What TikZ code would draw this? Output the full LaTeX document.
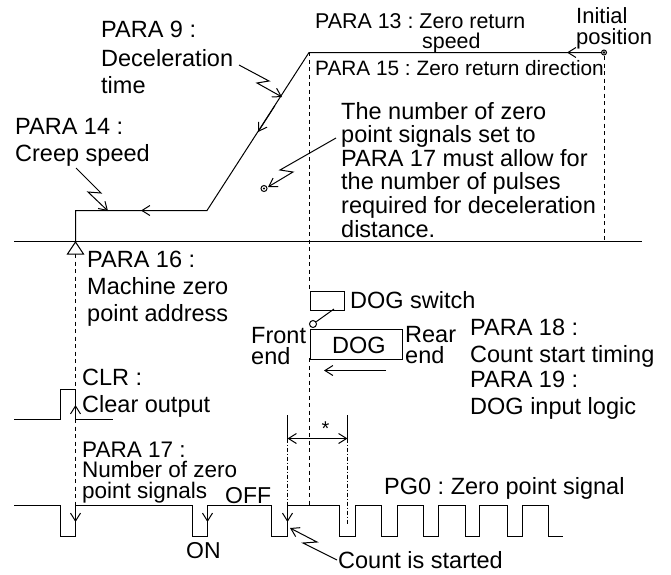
\documentclass[tikz,border=0pt]{standalone}
\usepackage{fontspec}
\setmainfont{Liberation Sans}
\usetikzlibrary{arrows.meta}
\newcommand{\fs}[2]{\fontsize{#1}{#2}\selectfont\frenchspacing}
\tikzset{
  line/.style={line width=1pt,line join=miter},
  barb/.style={line width=1pt,-{Straight Barb[length=8pt,width=10pt,line width=1pt]}},
  twobarb/.style={line width=1pt,{Straight Barb[length=8pt,width=10pt,line width=1pt]}-{Straight Barb[length=8pt,width=10pt,line width=1pt]}},
  dashline/.style={line width=1pt,dash pattern=on 4pt off 3.5pt},
  dashdot/.style={line width=0.7pt,dash pattern=on 4pt off 2pt on 1pt off 2pt},
  txt/.style={anchor=base west,inner sep=0pt,align=left,font=\fs{23.5}{27}},
}
\begin{document}
\begin{tikzpicture}[x=1pt,y=-1pt]
\useasboundingbox (0,0) rectangle (671,574);
% baseline
\draw[line] (14,241.5) -- (642,241.5);
% speed profile
\draw[line] (75.5,241) -- (75.5,210.5) -- (207,210.5) -- (309,52.5) -- (604,52.5);
\draw[line,fill=white] (604,52.5) circle (2.5);
\fill (604,52.5) circle (1.4);
% dashed verticals
\draw[dashline] (309.5,52) -- (309.5,290);
\draw[dashline] (309.5,358) -- (309.5,505);
\draw[dashline] (604.5,56) -- (604.5,241);
\draw[dashline] (75.5,254) -- (75.5,536);
% zero mark
\draw[line,fill=white] (67.5,254) -- (75.5,242) -- (83.5,254) -- cycle;
% flow arrows
\coordinate (flowA) at (185,210.5); \coordinate (flowAt) at (141,210.5);
\coordinate (flowB) at (275,105.5); \coordinate (flowBt) at (258,132);
\coordinate (flowC) at (590,52.5);  \coordinate (flowCt) at (567,52.5);
\draw[barb] (flowA) -- (flowAt);
\draw[barb] (flowB) -- (flowBt);
\draw[barb] (flowC) -- (flowCt);
% texts
\node[txt] (p9) at (101,93) {PARA 9 :\\[1.5pt]Deceleration\\time};
\node[txt] (p14) at (15,161) {PARA 14 :\\Creep speed};
\node[txt,font=\fs{21.4}{24}] (p13) at (315,28) {PARA 13 : Zero return};
\node[txt,font=\fs{21.4}{24}] (p13b) at (422,48) {speed};
\node[txt,font=\fs{22}{21}] (init) at (576,44) {Initial\\position};
\node[txt,font=\fs{20.8}{24}] (p15) at (315,75) {PARA 15 : Zero return direction};
\node[txt,font=\fs{23.5}{23.6}] (note) at (341,237) {The number of zero\\point signals set to\\PARA 17 must allow for\\the number of pulses\\required for deceleration\\distance.};
\node[txt] (p16) at (87,321) {PARA 16 :\\Machine zero\\point address};
\node[txt] (dogsw) at (350,308) {DOG switch};
\node[txt,font=\fs{23.5}{21}] (front) at (251,364) {Front\\end};
\node[txt] (dogt) at (332,353) {DOG};
\node[txt,font=\fs{23.5}{21}] (rear) at (405,363) {Rear\\end};
\node[txt] (p18) at (470,362) {PARA 18 :\\Count start timing};
\node[txt] (p19) at (470,414) {PARA 19 :\\DOG input logic};
\node[txt] (clr) at (82,412) {CLR :\\Clear output};
\node[txt,font=\fs{22.5}{20.5}] (p17) at (82,498) {PARA 17 :\\Number of zero\\point signals};
\node[txt,font=\fs{23}{27}] (off) at (225,503) {OFF};
\node[txt,font=\fs{23}{27}] (on) at (186,558) {ON};
\node[txt] (pg0) at (384,494) {PG0 : Zero point signal};
\node[txt] (cnt) at (338,568) {Count is started};
\node[txt,font=\fs{20}{24}] (star) at (321.5,435) {*};
% leaders
\coordinate (l9a) at (239,65); \coordinate (l9b) at (269,81); \coordinate (l9c) at (257,83); \coordinate (l9d) at (282,97);
\draw[barb] (l9a) -- (l9b) -- (l9c) -- (l9d);
\coordinate (l14a) at (76,168); \coordinate (l14b) at (101,193); \coordinate (l14c) at (88,192); \coordinate (l14d) at (108,211);
\draw[barb] (l14a) -- (l14b) -- (l14c) -- (l14d);
\coordinate (lna) at (336,138); \coordinate (lnb) at (280,170); \coordinate (lnc) at (293,172); \coordinate (lnd) at (268,187);
\draw[barb] (lna) -- (lnb) -- (lnc) -- (lnd);
\coordinate (dot) at (264,188.5);
\draw[line,fill=white] (dot) circle (3);
\fill (dot) circle (1.2);
\coordinate (lca) at (337,560); \coordinate (lcb) at (303,543); \coordinate (lcc) at (317,542); \coordinate (lcd) at (290,528);
\draw[barb] (lca) -- (lcb) -- (lcc) -- (lcd);
% DOG switch
\node[draw,line width=1pt,minimum width=34pt,minimum height=19pt,inner sep=0pt,anchor=north west] (swbox) at (309.5,290.5) {};
\coordinate (levA) at (334,309);
\node[draw,circle,line width=1pt,minimum size=7pt,inner sep=0pt] (roller) at (313,324) {};
\draw[line] (levA) -- (roller);
\node[draw,line width=1pt,minimum width=92pt,minimum height=30pt,inner sep=0pt,anchor=north west] (dogbox) at (309.5,328.5) {};
\coordinate (dga) at (386,370.5); \coordinate (dgb) at (324,370.5);
\draw[barb] (dga) -- (dgb);
% CLR signal
\draw[line] (14,419.5) -- (60.5,419.5) -- (60.5,389.5) -- (75.5,389.5) -- (75.5,419.5) -- (113,419.5);
\coordinate (clrA) at (75.5,422); \coordinate (clrB) at (75.5,405);
\draw[barb] (clrA) -- (clrB);
% PG0 signal
\draw[line] (14,505.5) -- (60.5,505.5) -- (60.5,536.5) -- (75.5,536.5) -- (75.5,505.5)
 -- (192.5,505.5) -- (192.5,536.5) -- (207.5,536.5) -- (207.5,505.5)
 -- (271.5,505.5) -- (271.5,536.5) -- (287.5,536.5) -- (287.5,505.5)
 -- (339.5,505.5) -- (339.5,536.5) -- (355.5,536.5) -- (355.5,505.5)
 -- (381.5,505.5) -- (381.5,536.5) -- (397.5,536.5) -- (397.5,505.5)
 -- (423.5,505.5) -- (423.5,536.5) -- (438.5,536.5) -- (438.5,505.5)
 -- (465.5,505.5) -- (465.5,536.5) -- (479.5,536.5) -- (479.5,505.5)
 -- (507.5,505.5) -- (507.5,536.5) -- (522.5,536.5) -- (522.5,505.5)
 -- (548.5,505.5) -- (548.5,536.5) -- (563,536.5);
\foreach \i/\xx in {a/75.5,b/207.5,c/287.5}{
  \coordinate (dn\i s) at (\xx,505);
  \coordinate (dn\i t) at (\xx,522);
  \draw[barb] (dn\i s) -- (dn\i t);
}
% dimension
\coordinate (dimL) at (287.5,438.5); \coordinate (dimR) at (347.5,438.5);
\draw[twobarb] (dimL) -- (dimR);
\draw[line] (287.5,415) -- (287.5,438.5);
\draw[line] (347.5,415) -- (347.5,438.5);
\draw[dashdot] (287.5,438.5) -- (287.5,505);
\draw[dashdot] (347.5,438.5) -- (347.5,525);
\end{tikzpicture}
\end{document}
